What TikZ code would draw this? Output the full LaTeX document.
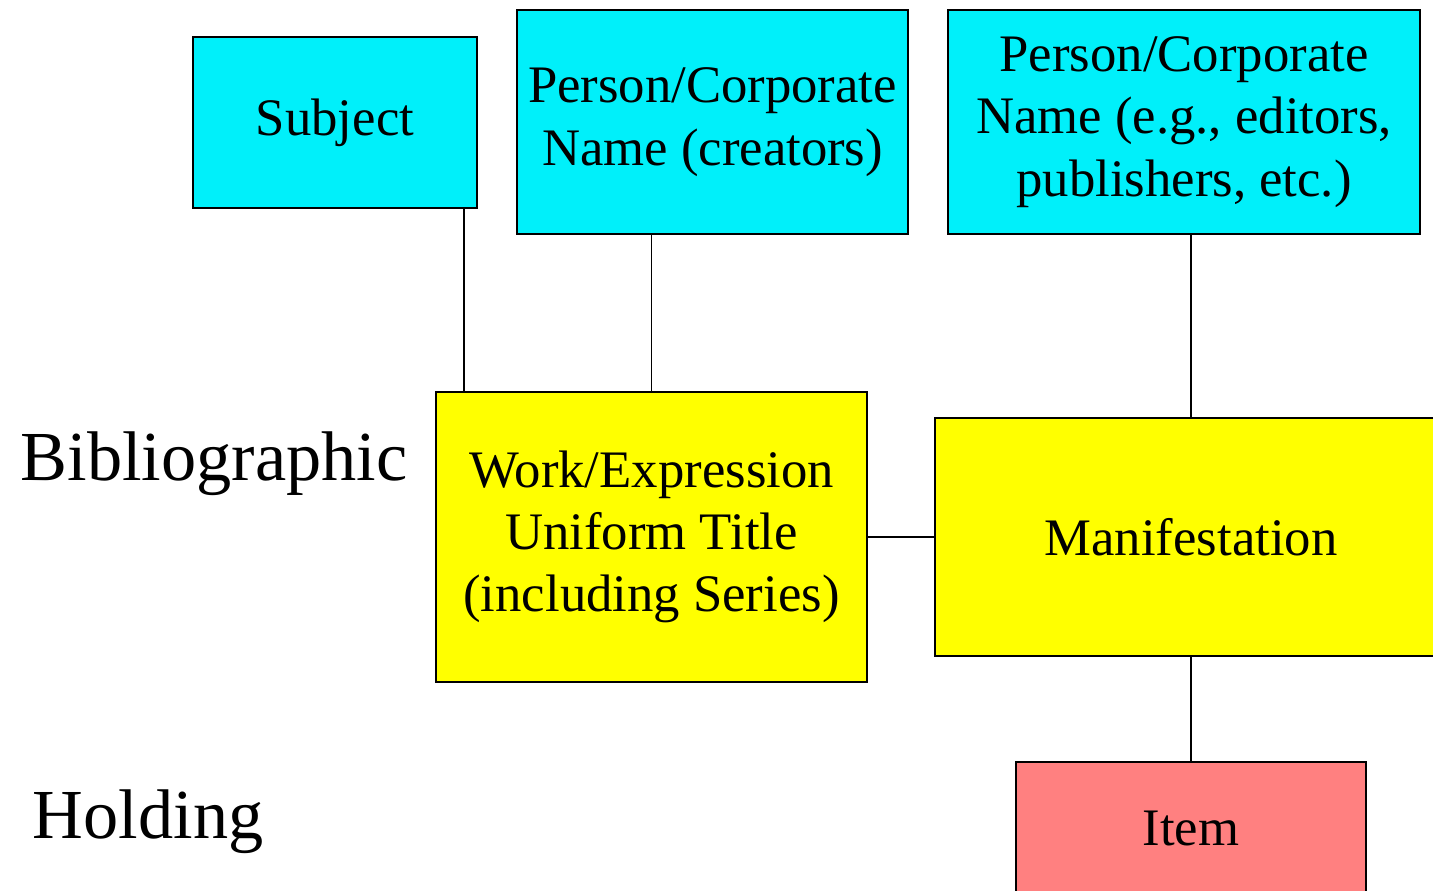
\documentclass[tikz,border=0pt]{standalone}
\usepackage{fontspec}
\setmainfont{Liberation Serif}
\usepackage{tikz}
\usetikzlibrary{positioning}
\usetikzlibrary{calc}
\definecolor{boxcyan}{RGB}{0,240,250}
\definecolor{boxyellow}{RGB}{255,255,0}
\definecolor{boxpink}{RGB}{255,128,128}
\tikzset{entity/.style={rectangle,draw=black,line width=1pt,align=center,inner sep=2pt,font=\fontsize{30}{35.5}\selectfont},
  level label/.style={anchor=base west,inner sep=0pt,font=\fontsize{40}{46}\selectfont},}

\begin{document}
\begin{tikzpicture}[line width=1pt]
	\clip (0,0) rectangle (28.66,-17.82);
	\fill[white] (0,0) rectangle (28.66,-17.82);
	% bibliographic level
	\node[entity, fill=boxyellow, minimum width=8.62cm, minimum height=5.80cm] (work) at (13.03,-10.74) {Work/Expression\\Uniform Title\\(including Series)};
	\node[entity, fill=boxyellow, minimum width=10.24cm, minimum height=4.76cm] (manif) at (23.82,-10.74) {Manifestation};
	\node[entity, fill=boxcyan, minimum width=5.68cm, minimum height=3.42cm] (subj) at (6.70,-2.45) {Subject};
	\node[entity, fill=boxcyan, minimum width=7.82cm, minimum height=4.48cm] (creat) at (14.25,-2.44) {Person/Corporate\\Name (creators)};
	\node[entity, fill=boxcyan, minimum width=9.44cm, minimum height=4.48cm] (edit) at (23.68,-2.44) {Person/Corporate\\Name (e.g., editors,\\publishers, etc.)};
	% holding level
	\node[entity, fill=boxpink, minimum width=7.00cm, minimum height=2.64cm] (item) at (23.82,-16.56) {Item};

	\node[level label] (biblab) at (0.40,-9.62) {Bibliographic};
	\node[level label] (holdlab) at (0.64,-16.76) {Holding};

	\draw ([xshift=-0.28cm]subj.south east) -- ([xshift=-0.28cm]subj.south east |- work.north);
	\draw (work.north) -- (work.north |- creat.south);
	\draw (manif.north) -- (manif.north |- edit.south);
	\draw (work.east) -- (manif.west);
	\draw (manif.south) -- (item.north);
\end{tikzpicture}
\end{document}
